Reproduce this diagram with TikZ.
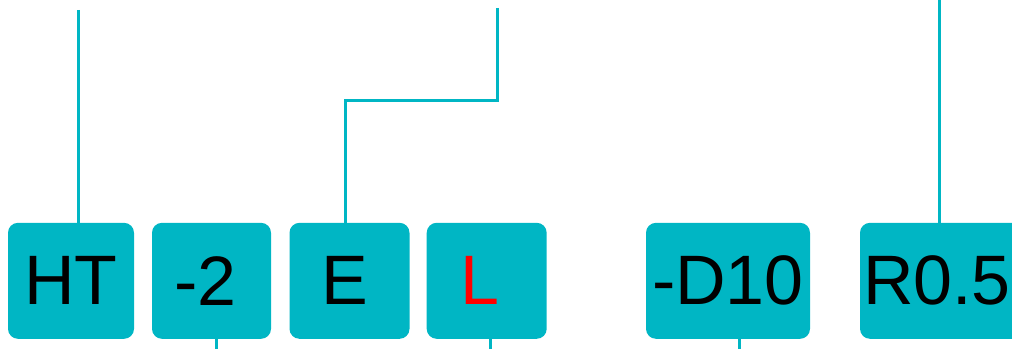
\documentclass[tikz,border=0pt]{standalone}
\usepackage{fontspec}
\setmainfont{Liberation Sans}
\definecolor{teal1}{RGB}{0,182,196}
\begin{document}
\begin{tikzpicture}[x=1pt,y=1pt,
  tbox/.style={fill=teal1,rounded corners=10pt,minimum height=116pt,inner sep=0pt,font=\fontsize{70}{80}\selectfont,text=black},
  conn/.style={draw=teal1,line width=3pt}]
\useasboundingbox (0,0) rectangle (1012,349);
\clip (0,0) rectangle (1012,349);
\node[tbox,minimum width=126pt] (HT) at (71,68.2) {HT};
\node[tbox,minimum width=119pt] (m2) at (211.5,68.2) {\hspace*{-12pt}-2};
\node[tbox,minimum width=120pt] (E) at (349.5,68.2) {\hspace*{-10pt}E};
\node[tbox,minimum width=120pt,text=red] (L) at (486.7,68.2) {\hspace*{-14pt}L};
\node[tbox,minimum width=164pt] (D10) at (728,68.2) {-D10};
\node[tbox,minimum width=164pt,text width=164pt,align=left] (R) at (942,68.2) {\hspace{3pt}R0.5};
\coordinate (httop) at (78,339);
\coordinate (etop) at (497,341);
\coordinate (ebend) at (345.7,249);
\coordinate (rtop) at (939.3,349);
\coordinate (s2) at (216.7,0);
\coordinate (sL) at (490,0);
\coordinate (sD) at (739,0);
\draw[conn] (httop) -- (httop |- HT.north);
\draw[conn] (etop) |- (ebend) -- (ebend |- E.north);
\draw[conn] (rtop) -- (rtop |- R.north);
\draw[conn] (s2) -- (s2 |- m2.south);
\draw[conn] (sL) -- (sL |- L.south);
\draw[conn] (sD) -- (sD |- D10.south);
\end{tikzpicture}
\end{document}
